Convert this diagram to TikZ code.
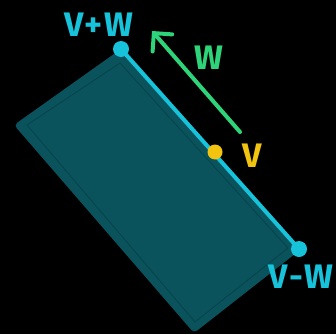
\documentclass[tikz,border=0pt]{standalone}
\usepackage{fontspec}
\setmainfont{Fira Sans}[LetterSpace=6]
\usetikzlibrary{arrows.meta}
\definecolor{slab}{HTML}{0A535C}
\definecolor{slabline}{HTML}{06434B}
\definecolor{vwcyan}{HTML}{17C3DA}
\definecolor{vyellow}{HTML}{F2C40F}
\definecolor{wgreen}{HTML}{2ED47A}
\tikzset{
  dot/.style={circle,inner sep=0pt,minimum size=#1},
  lbl/.style={font=\fontsize{34}{34}\selectfont\bfseries,inner sep=0pt}
}
\begin{document}
\begin{tikzpicture}[x=1pt,y=-1pt]
\fill[black] (0,0) rectangle (336,334);
\useasboundingbox (0,0) rectangle (336,334);
% the slab
\coordinate (T) at (121,49);
\coordinate (L) at (14,125);
\coordinate (B) at (194,333);
\coordinate (R) at (300,250);
\fill[slab,rounded corners=4pt] (T)--(R)--(B)--(L)--cycle;
\draw[slabline,line width=0.8pt] (120,63)--(288,248)--(195,322)--(27,125)--cycle;
% the edge and its points
\node[dot=16pt,fill=vwcyan] (vpw) at (T) {};
\node[dot=16pt,fill=vwcyan] (vmw) at (299,249) {};
\draw[vwcyan,line width=4pt] (vpw.center)--(vmw.center);
\node[dot=15pt,fill=vyellow] (v) at (215,152) {};
\node[lbl,text=vwcyan] (vpwlbl) at (99,25) {V+W};
\node[lbl,text=vwcyan] (vmwlbl) at (301,277) {V-W};
\node[lbl,text=vyellow] (vlbl) at (252,156) {V};
% the vector w
\coordinate (wtail) at (240,132);
\coordinate (whead) at (152,31);
\draw[wgreen,line width=4pt,line cap=round,arrows={-Straight Barb[length=13pt,width=26pt,line cap=round]}] (wtail)--(whead);
\node[lbl,text=wgreen] (wlbl) at (209,58) {W};
\end{tikzpicture}
\end{document}
